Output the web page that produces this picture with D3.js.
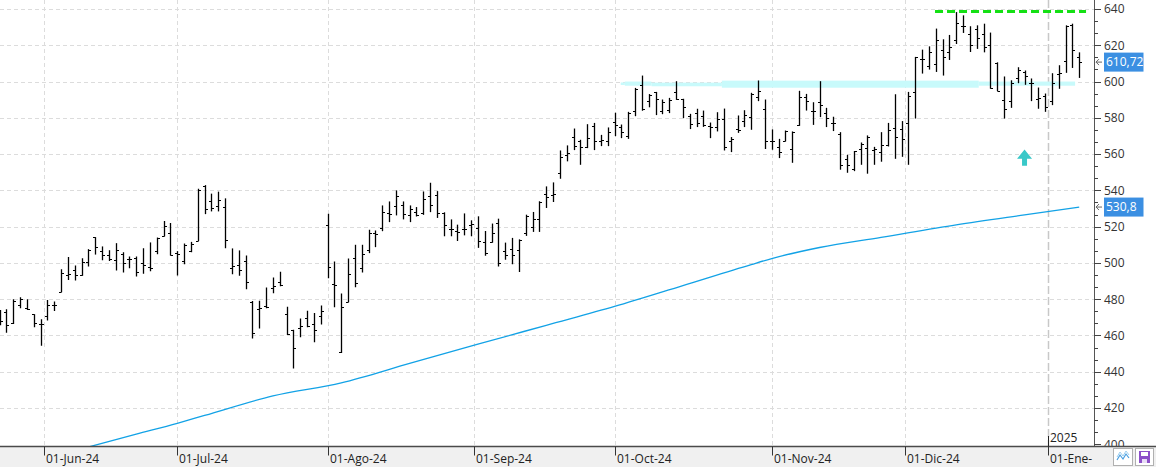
<!DOCTYPE html>
<html><head><meta charset="utf-8">
<script src="https://cdn.jsdelivr.net/npm/d3@7"></script>
<style>
html,body{margin:0;padding:0;background:#fff;overflow:hidden}
svg{display:block}
text{font-family:"Open Sans","Noto Sans",sans-serif}
</style>
</head><body>
<svg id="chart" width="1156" height="467"></svg>
<script>
// ---------- DATA ----------
const startDate = "2024-05-22";
const endDate = "2025-01-08";
const holidays = ["2024-05-27","2024-06-19","2024-07-04","2024-09-02","2024-11-28","2024-12-25","2025-01-01"];

const opens = [472,472.8,467.1,476.6,475.2,471.7,466.5,470.8,476.8,484.2,
493.2,496.2,493.6,500.4,514.2,506.3,504.5,501.7,505,502.1,
502.8,499.8,497.6,506.7,514.6,516.6,505.5,501.1,506.5,512,
542.4,533.9,531.5,531,497.3,498.6,501.1,478.7,474.6,476.3,
486.2,489.7,472,463.2,464.1,469.7,466.3,470.8,521,488.4,
450.7,478.5,502.6,497.3,507.2,516.6,519.4,527.8,531.5,532.1,
526.6,528,527.7,537.1,537.2,527.5,518.9,517.8,518.9,521.1,
519.4,511.6,511.6,521.8,506.4,507.9,507,516.7,520,524.4,
537.8,537.2,549.7,559.6,569.7,567.3,563.9,575.4,567.3,567.3,
577.8,575.2,570.1,583.9,598.2,589.5,594.3,584,584.4,594.1,
590.5,581.1,582.9,581.1,575.4,574.7,579.6,567.2,573.6,578.5,
580.2,591.4,585,567.2,563.7,567.3,562.9,576.1,591.4,583.5,
588.8,582.9,577.4,571,557.1,551.9,562.9,563.5,562.4,561.3,
565,574.3,573.8,576.9,594.3,612.5,608.3,609.9,617.2,616.5,
623.1,630.8,626.2,629,626,620.4,610.1,590.1,589.2,602.2,
605.1,599.3,590.6,591.9,589.5,604.4,611.6,631.4,613.4];

const highs = [474.1,474.4,480,481.1,480,471.7,468.9,479.6,478.7,496.5,
503.2,498.6,502.6,507.6,514.2,509.1,507,510.9,505.9,503.5,
503.5,508.1,511.3,514,523.1,522,506.5,510.7,511.6,540.9,
542.9,538.2,539.3,535.6,508,506.9,504.1,479,479.2,486.4,
491.9,495.2,475.9,463.2,469.3,473.7,472.4,476.5,527.1,500.8,
483.1,502.4,510,510,518.3,517.9,531.7,533.9,540,533.9,
531.7,530.8,539.4,544.2,539.6,527.9,524,521.1,527.3,523.5,
525.7,517.6,521.7,524.4,511.2,513.8,513,526.6,528.1,534,
542.2,544.4,562,564.8,574.1,567.9,576.5,577.2,570.6,574.7,
582.8,576.3,583.3,596.5,603.3,593.1,594.3,590.1,591,600.2,
590.5,582.2,585,584,577.4,583.1,585.1,569.4,581.3,584.2,
593.8,600.6,590.1,573.6,568.4,573,572.5,594.9,593.2,588.6,
600.2,585.5,580.6,572.1,559.6,561.7,566.4,570.3,564,572.1,
577.2,593,578.2,594.3,613.6,617.6,619.4,629.2,623.3,625.7,
638.3,636.5,630.5,631,631.9,627,610.6,602.8,600.7,607.9,
606.1,601.7,596.7,593.4,604.6,609,631,631.9,616.1];

const lows = [465.6,461.5,466.3,475,474,464.5,454.4,468.2,473.5,483.8,
490.6,490.3,492.9,498,504.6,501.5,501,495.8,494.7,497.1,
492.5,494.1,495.4,504.8,514.6,504.1,493,499.3,505.9,512,
526.9,528.4,528.4,508.1,493.8,492.9,485.5,458.4,463.9,475,
483.3,487.1,460.3,441.8,459,464.5,456.2,466,491.6,475.5,
450.3,478.3,486.6,494.7,505.4,508.7,517.5,522.5,526.2,524,
522.5,525.6,526.5,528,524.8,514.7,514.7,512.1,515.2,514.7,
508.3,503.9,511.2,498,501.8,499.3,495,514.9,517.1,517.1,
530.3,533.6,546.4,556,562.2,554.1,563.3,562.2,564.4,564.4,
569.9,568.8,568.4,580.9,583.9,585.8,581.5,582,582.6,589.9,
579.8,573.8,574.9,575,568.8,572.5,562,561.1,571.7,574.9,
573.4,589.2,562.8,562.4,557.8,567,555.2,575.6,584,576.1,
580.4,574.9,572.7,551.4,549.7,550.6,554.1,549.2,554.1,555.8,
564.2,557.4,558.5,554.1,579.6,604.4,606.6,605.3,603.3,611.9,
620.7,626.8,616.3,618,616.1,596.1,594.7,579.6,585.5,599.1,
598.2,589.2,585,583.3,587,596,604.8,607.5,602];

const closes = [468,465.8,478.9,480.1,474.4,466.7,466.3,477,476.8,494.7,
493.8,493.4,500.4,507,508.7,504.5,502.1,507,499.9,502.1,
495.1,499.1,497.1,513.7,520.1,504.1,504.8,510,510.5,540.4,
529.9,530.2,534.7,512.7,498.4,496.2,489.5,461.5,475.2,475.7,
487.5,488,460.6,453.1,465.2,465.2,463,473.7,498,488.1,
475.7,494,489,504.8,516.6,516.1,528.2,526.7,537.1,527.1,
529.5,526.2,535.4,532.1,527.8,521.1,518.7,517.2,518.5,521.5,
511.9,505.5,516.7,500.2,504.6,504.6,512.7,525.7,524.4,533.6,
536.1,537.8,558.5,560.7,564.2,563.7,568.8,567.3,567.5,572.1,
576,572.3,582.9,596.1,584.8,592.7,590.3,588.8,590.1,590.5,
585.9,576.7,576.9,576.1,575,579.4,564,568.3,573.4,581.8,
593.4,595,567.3,567.3,560.9,572.7,572.1,591.7,589.5,583.7,
587.2,579.8,577.4,554.1,554.1,561.5,565.5,569.7,562.6,564.8,
573.4,569.2,568.1,592.3,613.6,612.7,616.5,623.1,613.6,619.3,
632.5,630.8,620,623.9,619.3,596.7,594.9,584.6,599,606.6,
603.3,599.3,590.8,586.2,599.3,604.8,630.5,617.6,610.72];

// moving average, read at sampled bars (bar index -> value)
const maIndex  = [12, 20, 26, 30, 40, 50, 60, 70, 80, 90, 100, 110, 113, 120, 129, 140, 150, 158];
const maValues = [397.5, 405.6, 411.6, 415.9, 426.7, 433.9, 444.6, 455.2, 465.6, 476, 487.5, 499.1, 502.4, 508.5, 514.1, 521, 526.5, 530.8];

const yTicks = [400,420,440,460,480,500,520,540,560,580,600,620,640];
const monthDates  = ["2024-06-01","2024-07-01","2024-08-01","2024-09-01","2024-10-01","2024-11-01","2024-12-01","2025-01-01"];
const monthLabels = ["01-Jun-24","01-Jul-24","01-Ago-24","01-Sep-24","01-Oct-24","01-Nov-24","01-Dic-24","01-Ene-"];
const yearMarkDate = "2025-01-01";
const yearLabel = "2025";

const lastLabel = "610,72", lastValue = 610.72;
const maLabel = "530,8", maLast = 530.8;

// annotations (bar index / price)
const zoneStart = [90.9, 91.5, 95.4, 105.7, 143.3];
const zoneEnd   = [91.5, 95.4, 105.7, 143.3, 157.4];
const zoneLow   = [598.1, 597.7, 597.4, 596.6, 597.7];
const zoneHigh  = [599.5, 600.0, 599.4, 600.5, 600.0];
const resistanceLevel = 638.6, resistanceFrom = 136.9, resistanceTo = 159;
const arrowIndex = 150, arrowTop = 562.6, arrowBottom = 553.6;

// ---------- BUILD ----------
function tradingDays(){
  const out=[]; let d=new Date(startDate+"T00:00:00Z"); const end=new Date(endDate+"T00:00:00Z");
  while(d<=end){ const w=d.getUTCDay(); const s=d.toISOString().slice(0,10);
    if(w!==0 && w!==6 && !holidays.includes(s)) out.push(s);
    d=new Date(d.getTime()+864e5);}
  return out;
}
const dates = tradingDays();
const bars = dates.map((d,i)=>({i, d, o:opens[i], h:highs[i], l:lows[i], c:closes[i]}));
function datePos(md){ const i=dates.findIndex(s=>s>=md); return dates[i]===md ? i : i-0.5; }

const W=1156, H=467, plotR=1094, axisY=446.5;
const x = d3.scaleLinear().domain([0,158]).range([-0.4,1079.2]);
const y = d3.scaleLinear().domain([400,640]).range([444.3,9]);

const svg = d3.select("#chart");
svg.append("rect").attr("width",W).attr("height",H).attr("fill","#fff");
svg.append("clipPath").attr("id","plotclip").append("rect").attr("x",0).attr("y",0).attr("width",plotR).attr("height",axisY);
const plot = svg.append("g").attr("clip-path","url(#plotclip)");

// grid
plot.append("g").selectAll("line").data(yTicks.filter(v=>v>400)).join("line")
  .attr("x1",0).attr("x2",plotR).attr("y1",d=>Math.round(y(d))+0.5).attr("y2",d=>Math.round(y(d))+0.5)
  .attr("stroke","#dcdcdc").attr("stroke-dasharray","4,3");
const monthPos = monthDates.map(datePos);
plot.append("g").selectAll("line").data(monthPos.slice(0,-1)).join("line")
  .attr("x1",d=>Math.round(x(d))+0.5).attr("x2",d=>Math.round(x(d))+0.5).attr("y1",0).attr("y2",axisY)
  .attr("stroke","#dcdcdc").attr("stroke-dasharray","4,3");
// year separator
const yearX = Math.round(x(datePos(yearMarkDate)))+0.5;
plot.append("line").attr("x1",yearX).attr("x2",yearX).attr("y1",0).attr("y2",axisY)
  .attr("stroke","#c8c8c8").attr("stroke-width",1.5).attr("stroke-dasharray","8,3");

// zone band
plot.append("g").selectAll("rect").data(zoneStart.map((s,k)=>({s,e:zoneEnd[k],lo:zoneLow[k],hi:zoneHigh[k]}))).join("rect")
  .attr("x",d=>x(d.s)).attr("width",d=>x(d.e)-x(d.s))
  .attr("y",d=>y(d.hi)).attr("height",d=>y(d.lo)-y(d.hi)).attr("fill","#c8fafb");

// moving average
plot.append("path").datum(maIndex.map((k,j)=>[k,maValues[j]]))
  .attr("d",d3.line().x(d=>x(d[0])).y(d=>y(d[1])).curve(d3.curveMonotoneX))
  .attr("fill","none").attr("stroke","#12a2e6").attr("stroke-width",1.3);

// OHLC bars
const bg = plot.append("g").attr("stroke","#000");
bars.forEach(b=>{
  const cx = Math.round(x(b.i))+0.5;
  bg.append("line").attr("x1",cx).attr("x2",cx).attr("y1",y(b.h)).attr("y2",y(b.l)).attr("stroke-width",1.3);
  const yo=Math.round(y(b.o))+0.5, yc=Math.round(y(b.c))+0.5;
  bg.append("line").attr("x1",cx-2.5).attr("x2",cx).attr("y1",yo).attr("y2",yo).attr("stroke-width",1);
  bg.append("line").attr("x1",cx).attr("x2",cx+2.5).attr("y1",yc).attr("y2",yc).attr("stroke-width",1);
});

// resistance
plot.append("line").attr("x1",x(resistanceFrom)).attr("x2",x(resistanceTo))
  .attr("y1",y(resistanceLevel)).attr("y2",y(resistanceLevel))
  .attr("stroke","#14e014").attr("stroke-width",3).attr("stroke-dasharray","8,4");

// up arrow
{
  const ax=x(arrowIndex), t=y(arrowTop), b=y(arrowBottom), hh=(b-t)*0.58;
  const p=d3.path();
  p.moveTo(ax,t); p.lineTo(ax+7.5,t+hh); p.lineTo(ax+2.5,t+hh); p.lineTo(ax+2.5,b);
  p.lineTo(ax-2.5,b); p.lineTo(ax-2.5,t+hh); p.lineTo(ax-7.5,t+hh); p.closePath();
  plot.append("path").attr("d",p.toString()).attr("fill","#38c8c8");
}

// right axis
svg.append("line").attr("x1",plotR+0.5).attr("x2",plotR+0.5).attr("y1",0).attr("y2",axisY).attr("stroke","#555");
const minor=[]; for(let v=400; v<640; v+=20){ minor.push(v+20/3, v+40/3); }
svg.append("g").selectAll("line").data(minor).join("line")
  .attr("x1",plotR).attr("x2",plotR+4).attr("y1",d=>Math.round(y(d))+0.5).attr("y2",d=>Math.round(y(d))+0.5).attr("stroke","#444");
svg.append("g").selectAll("line").data(yTicks).join("line")
  .attr("x1",plotR).attr("x2",plotR+7).attr("y1",d=>Math.round(y(d))+0.5).attr("y2",d=>Math.round(y(d))+0.5).attr("stroke","#444");
svg.append("g").selectAll("text").data(yTicks).join("text")
  .attr("x",plotR+10).attr("y",d=>y(d)).attr("dy","0.36em").attr("font-size",12).attr("fill","#333").text(d=>d);

// value boxes
function valueBox(val,label){
  const yy=y(val);
  svg.append("rect").attr("x",plotR+10).attr("y",yy-9.5).attr("width",39.5).attr("height",19).attr("fill","#3b8fe2");
  svg.append("text").attr("x",plotR+12).attr("y",yy).attr("dy","0.36em").attr("font-size",12).attr("fill","#fff").text(label);
  const ar=svg.append("g").attr("stroke","#666").attr("fill","none");
  ar.append("line").attr("x1",plotR+2).attr("x2",plotR+8).attr("y1",yy).attr("y2",yy);
  ar.append("path").attr("d",`M${plotR+5},${yy-3}L${plotR+2},${yy}L${plotR+5},${yy+3}`);
}
valueBox(lastValue,lastLabel);
valueBox(maLast,maLabel);

// bottom band & x axis
svg.append("rect").attr("x",0).attr("y",axisY+0.5).attr("width",W).attr("height",H-axisY).attr("fill","#f0f0f0");
svg.append("line").attr("x1",0).attr("x2",W).attr("y1",axisY).attr("y2",axisY).attr("stroke","#4a4a4a").attr("stroke-width",1.5);
const xg = svg.append("g");
monthPos.forEach((p,k)=>{
  const mx=Math.round(x(p))+0.5;
  xg.append("line").attr("x1",mx).attr("x2",mx).attr("y1",axisY).attr("y2",axisY+9).attr("stroke","#333");
  xg.append("text").attr("x",mx+1.5).attr("y",463).attr("font-size",12).attr("fill","#222").text(monthLabels[k]);
});
// year marker
svg.append("line").attr("x1",yearX).attr("x2",yearX).attr("y1",436).attr("y2",axisY).attr("stroke","#222");
svg.append("text").attr("x",yearX+1.5).attr("y",442).attr("font-size",12).attr("fill","#222").text(yearLabel);

// corner buttons
const b1=svg.append("g");
b1.append("rect").attr("x",1113.5).attr("y",448.5).attr("width",19).attr("height",17).attr("fill","#fff").attr("stroke","#b0b0b0");
b1.append("path").attr("d","M1117,460 L1120,455 L1123,459 L1126,454 L1129,458").attr("fill","none").attr("stroke","#4a9ee0").attr("stroke-width",1.2);
b1.append("path").attr("d","M1117,457 L1120,452 L1123,456 L1126,451 L1129,455").attr("fill","none").attr("stroke","#9ccff0").attr("stroke-width",1);
const b2=svg.append("g");
b2.append("rect").attr("x",1135.5).attr("y",448.5).attr("width",18).attr("height",17).attr("fill","#fff").attr("stroke","#b0b0b0");
b2.append("rect").attr("x",1139).attr("y",451).attr("width",11).attr("height",12).attr("fill","#8c4fc9");
b2.append("rect").attr("x",1141).attr("y",452).attr("width",7).attr("height",4).attr("fill","#fff");
b2.append("rect").attr("x",1142).attr("y",459).attr("width",5).attr("height",4).attr("fill","#e8dcf5");
</script>
</body></html>
